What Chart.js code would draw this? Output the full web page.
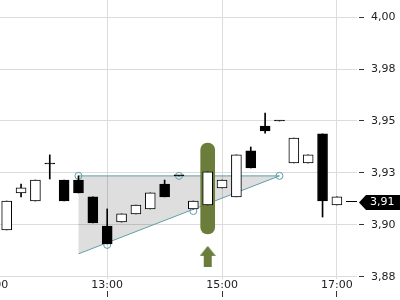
<!DOCTYPE html>
<html>
<head>
<meta charset="utf-8">
<script src="https://cdn.jsdelivr.net/npm/chart.js@4"></script>
<style>
  html, body { margin: 0; padding: 0; background: #fff; }
  #wrap { width: 400px; height: 300px; }
</style>
</head>
<body>
<div id="wrap"><canvas id="myChart"></canvas></div>
<script>
// candles, 15 min
const times  = ['11:15', '11:30', '11:45', '12:00', '12:15', '12:30', '12:45', '13:00', '13:15', '13:30', '13:45', '14:00',
                '14:15', '14:30', '14:45', '15:00', '15:15', '15:30', '15:45', '16:00', '16:15', '16:30', '16:45', '17:00'];
const opens  = [3.8976, 3.9154, 3.9115, 3.9293, 3.9216, 3.9216, 3.9135, 3.8995, 3.9014, 3.9053, 3.9077, 3.9197,
                3.9236, 3.9077, 3.9096, 3.9178, 3.9135, 3.9356, 3.9476, 3.9500, 3.9298, 3.9298, 3.9438, 3.9096];
const highs  = [3.9115, 3.9197, 3.9216, 3.9337, 3.9216, 3.9236, 3.9135, 3.9077, 3.9053, 3.9096, 3.9154, 3.9216,
                3.9236, 3.9115, 3.9255, 3.9216, 3.9337, 3.9375, 3.9538, 3.9500, 3.9418, 3.9337, 3.9438, 3.9135];
const lows   = [3.8976, 3.9135, 3.9115, 3.9221, 3.9115, 3.9154, 3.9010, 3.8909, 3.9014, 3.9053, 3.9077, 3.9135,
                3.9236, 3.9077, 3.9096, 3.9178, 3.9135, 3.9274, 3.9442, 3.9500, 3.9298, 3.9298, 3.9038, 3.9096];
const closes = [3.9115, 3.9178, 3.9216, 3.9293, 3.9115, 3.9154, 3.9010, 3.8909, 3.9053, 3.9096, 3.9154, 3.9135,
                3.9236, 3.9115, 3.9255, 3.9216, 3.9337, 3.9274, 3.9452, 3.9500, 3.9418, 3.9337, 3.9115, 3.9135];

// triangle pattern
const patternTimes = ['12:30', '16:00'];
const patternTop = 3.9236;
const patternBottom = 3.8861;
const markerTimes  = ['12:30', '13:00', '14:15', '14:30', '16:00'];
const markerValues = [3.9236, 3.8904, 3.9236, 3.9067, 3.9236];

// signal
const signalTime = '14:45';
const signalRange = [3.8957, 3.9394];
const arrowLevel = 3.8849;

const lastPrice = 3.9115;

// axes
const timeTicks  = ['11:00', '13:00', '15:00', '17:00'];
const tickValues = [3.875, 3.9, 3.925, 3.95, 3.975, 4.0];
const tickLabels = ['3,88', '3,90', '3,93', '3,95', '3,98', '4,00'];
const xMin = 668, xMax = 1041;
const yMin = 3.874, yMax = 4.0082;

const toMin = t => { const [h, m] = t.split(':').map(Number); return h * 60 + m };

const teal = '#5f9ea8';
const green = '#6b7c3b';
const gridColor = '#dcdcdc';

Chart.defaults.font.family = '"DejaVu Sans", sans-serif';
Chart.defaults.font.size = 11;
Chart.defaults.color = '#222';

// arrow shape for the signal
const arrowImg = document.createElement('canvas');
arrowImg.width = 16;
arrowImg.height = 21;
{
    const c = arrowImg.getContext('2d');
    c.fillStyle = green;
    c.beginPath();
    c.moveTo(8, 0); c.lineTo(16, 10); c.lineTo(12, 10); c.lineTo(12, 21);
    c.lineTo(4, 21); c.lineTo(4, 10); c.lineTo(0, 10);
    c.closePath();
    c.fill();
}

const lastPricePlugin = {
    id: 'lastPrice',
    afterDraw(chart) {
        const { ctx, chartArea, scales: { y } } = chart;
        const py = Math.round(y.getPixelForValue(lastPrice)) + 0.5;
        ctx.save();
        ctx.strokeStyle = '#000';
        ctx.lineWidth = 1;
        ctx.beginPath();
        ctx.moveTo(chartArea.right - 11, py);
        ctx.lineTo(chartArea.right, py);
        ctx.stroke();
        const x0 = chartArea.right + 2;
        const cy = py + 1;
        ctx.fillStyle = '#000';
        ctx.beginPath();
        ctx.moveTo(x0, cy);
        ctx.lineTo(x0 + 7, cy - 7.5);
        ctx.lineTo(chart.width, cy - 7.5);
        ctx.lineTo(chart.width, cy + 7.5);
        ctx.lineTo(x0 + 7, cy + 7.5);
        ctx.closePath();
        ctx.fill();
        ctx.fillStyle = '#fff';
        ctx.font = '11px "DejaVu Sans"';
        ctx.textAlign = 'left';
        ctx.textBaseline = 'middle';
        ctx.fillText(lastPrice.toFixed(2).replace('.', ','), x0 + 11, cy);
        ctx.restore();
    }
};

const xs = times.map(toMin);

const ctx = document.getElementById('myChart');
const myChart = new Chart(ctx, {
    type: 'bar',
    data: {
        datasets: [
            {
                type: 'bar',
                data: xs.map((x, i) => ({ x, y: [opens[i], closes[i]] })),
                backgroundColor: xs.map((x, i) => closes[i] > opens[i] ? '#fff' : '#000'),
                borderColor: '#000',
                borderWidth: 1,
                borderSkipped: false,
                barThickness: 10,
                minBarLength: 1,
                grouped: false,
                order: 1
            },
            {
                type: 'bar',
                data: xs.map((x, i) => ({ x, y: [lows[i], highs[i]] })),
                backgroundColor: '#000',
                barThickness: 1,
                grouped: false,
                order: 2
            },
            {
                type: 'line',
                data: [{ x: toMin(signalTime), y: arrowLevel }],
                showLine: false,
                pointStyle: arrowImg,
                pointRadius: 10,
                order: 3
            },
            {
                type: 'bar',
                data: [{ x: toMin(signalTime), y: signalRange }],
                backgroundColor: green,
                barThickness: 14,
                borderRadius: 7,
                borderSkipped: false,
                grouped: false,
                order: 4
            },
            {
                type: 'line',
                data: markerTimes.map((t, i) => ({ x: toMin(t), y: markerValues[i] })),
                showLine: false,
                pointRadius: 3.5,
                pointBorderColor: teal,
                pointBackgroundColor: 'transparent',
                pointBorderWidth: 1,
                order: 5
            },
            {
                type: 'line',
                data: [
                    { x: toMin(patternTimes[0]), y: patternTop },
                    { x: toMin(patternTimes[1]), y: patternTop },
                    { x: toMin(patternTimes[0]), y: patternBottom }
                ],
                borderColor: teal,
                borderWidth: 1,
                backgroundColor: 'rgba(0,0,0,0.13)',
                fill: 'shape',
                pointRadius: 0,
                tension: 0,
                order: 6
            }
        ]
    },
    options: {
        responsive: true,
        maintainAspectRatio: false,
        animation: false,
        layout: { padding: 0, autoPadding: false },
        plugins: {
            legend: { display: false },
            tooltip: { enabled: false }
        },
        scales: {
            x: {
                type: 'linear',
                min: xMin,
                max: xMax,
                offset: false,
                grid: {
                    color: gridColor,
                    offset: false,
                    tickColor: '#333',
                    tickLength: 18,
                    tickBorderDash: [0, 12, 6, 100]
                },
                border: { display: false },
                ticks: {
                    padding: -18,
                    maxRotation: 0,
                    autoSkip: false,
                    callback: (v, i) => timeTicks[i]
                },
                afterBuildTicks: axis => { axis.ticks = timeTicks.map(t => ({ value: toMin(t) })) },
                afterFit: axis => { axis.height = 21; axis.paddingLeft = 0; axis.paddingRight = 0 }
            },
            y: {
                position: 'right',
                min: yMin,
                max: yMax,
                grid: {
                    color: gridColor,
                    tickColor: '#333',
                    tickLength: 8,
                    tickBorderDash: [0, 2, 5, 100]
                },
                border: { display: false },
                ticks: {
                    padding: 6,
                    callback: (v, i) => tickLabels[i]
                },
                afterBuildTicks: axis => { axis.ticks = tickValues.map(v => ({ value: v })) },
                afterFit: axis => { axis.width = 43; axis.paddingTop = 0; axis.paddingBottom = 0 }
            }
        }
    },
    plugins: [lastPricePlugin]
})
</script>
</body>
</html>
